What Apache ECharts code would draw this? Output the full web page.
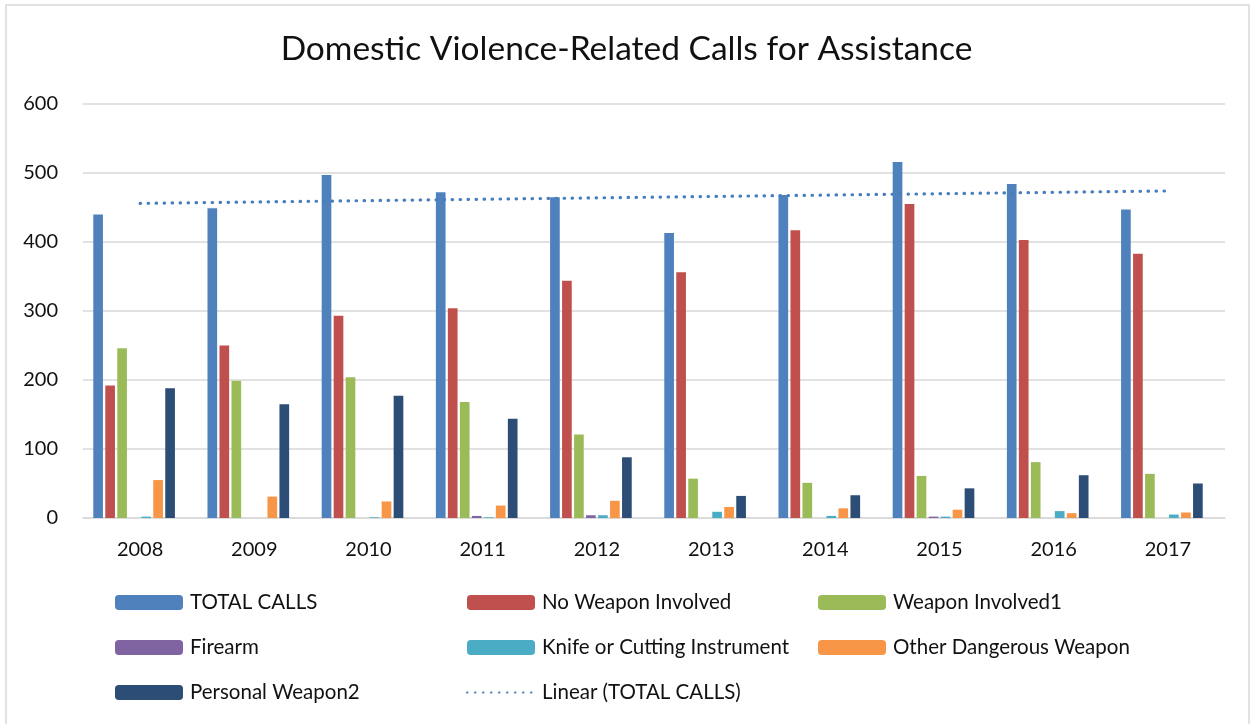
<!DOCTYPE html>
<html>
<head>
<meta charset="utf-8">
<script src="https://cdn.jsdelivr.net/npm/echarts@6/dist/echarts.min.js"></script>
<style>
  html, body { margin: 0; padding: 0; background: #fff; }
  #chart { width: 1253px; height: 724px; }
</style>
</head>
<body>
<div id="chart"></div>
<script>
const years = ['2008','2009','2010','2011','2012','2013','2014','2015','2016','2017'];
const totalCalls = [440, 449, 497, 472, 465, 413, 468, 516, 484, 447];
const noWeapon = [192, 250, 293, 304, 344, 356, 417, 455, 403, 383];
const weaponInvolved = [246, 199, 204, 168, 121, 57, 51, 61, 81, 64];
const firearm = [0, 0, 0, 3, 4, 0, 0, 2, 0, 0];
const knife = [2, 0, 1, 1, 4, 9, 3, 2, 10, 5];
const otherWeapon = [55, 31, 24, 18, 25, 16, 14, 12, 7, 8];
const personalWeapon = [188, 165, 177, 144, 88, 32, 33, 43, 62, 50];
// Linear trendline of TOTAL CALLS, end values
const trendStart = 456;
const trendEnd = 474;
const yTicks = [0, 100, 200, 300, 400, 500, 600];

const FONT = 'Lato';
const chart = echarts.init(document.getElementById('chart'), null, { renderer: 'canvas' });

function bar(name, data, color) {
  return {
    name, type: 'bar', data,
    barGap: '24%', barCategoryGap: '18%',
    itemStyle: { color },
    emphasis: { disabled: true },
    animation: false
  };
}

const trendData = years.map((y, i) => i === 0 ? trendStart : (i === years.length - 1 ? trendEnd : null));

const legendCommon = {
  orient: 'vertical',
  padding: 0,
  itemWidth: 68,
  itemHeight: 15,
  itemGap: 24,
  textStyle: { fontFamily: FONT, fontSize: 20.5, color: '#111', lineHeight: 20, padding: [0, 0, 0, 2] },
  selectedMode: false
};

chart.setOption({
  animation: false,
  backgroundColor: '#fff',
  title: {
    text: 'Domestic Violence-Related Calls for Assistance',
    left: 'center', top: 27,
    textStyle: { fontFamily: FONT, fontSize: 33.5, fontWeight: 'normal', color: '#111' }
  },
  graphic: [{
    type: 'rect', silent: true,
    shape: { x: 6, y: 5, width: 1243, height: 740 },
    style: { fill: 'none', stroke: '#D9D9D9', lineWidth: 1.5 }
  }],
  grid: { left: 83, right: 28, top: 104, bottom: 206, containLabel: false },
  legend: [
    Object.assign({ left: 115, top: 592, data: ['TOTAL CALLS', 'Firearm', 'Personal Weapon2'] }, legendCommon),
    Object.assign({ left: 466, top: 592, data: ['No Weapon Involved', 'Knife or Cutting Instrument',
      { name: 'Linear (TOTAL CALLS)', itemStyle: { opacity: 0 } }] }, legendCommon),
    Object.assign({ left: 818, top: 592, data: ['Weapon Involved1', 'Other Dangerous Weapon'] }, legendCommon)
  ],
  xAxis: {
    type: 'category', data: years,
    axisLine: { show: true, lineStyle: { color: '#D9D9D9', width: 1.5 } },
    axisTick: { show: false },
    axisLabel: { fontFamily: FONT, fontSize: 20, color: '#111', margin: 22 }
  },
  yAxis: {
    type: 'value', min: yTicks[0], max: yTicks[yTicks.length - 1], interval: 100,
    axisLine: { show: false }, axisTick: { show: false },
    splitLine: { lineStyle: { color: '#D9D9D9', width: 1.5 } },
    axisLabel: { fontFamily: FONT, fontSize: 20, color: '#111', margin: 25 }
  },
  series: [
    bar('TOTAL CALLS', totalCalls, '#4F81BD'),
    bar('No Weapon Involved', noWeapon, '#C0504D'),
    bar('Weapon Involved1', weaponInvolved, '#9BBB59'),
    bar('Firearm', firearm, '#8064A2'),
    bar('Knife or Cutting Instrument', knife, '#4BACC6'),
    bar('Other Dangerous Weapon', otherWeapon, '#F79646'),
    bar('Personal Weapon2', personalWeapon, '#2C4D75'),
    // empty eighth column slot present in the source chart (no values, no legend entry)
    bar('', years.map(() => null), 'transparent'),
    {
      name: 'Linear (TOTAL CALLS)', type: 'line', data: trendData,
      connectNulls: true, symbol: 'none', z: 5,
      itemStyle: { color: '#4A7EBB' },
      lineStyle: { color: '#4A7EBB', width: 3.2, type: [0.5, 7.5], cap: 'round' },
      emphasis: { disabled: true },
      animation: false
    }
  ]
});
</script>
</body>
</html>
